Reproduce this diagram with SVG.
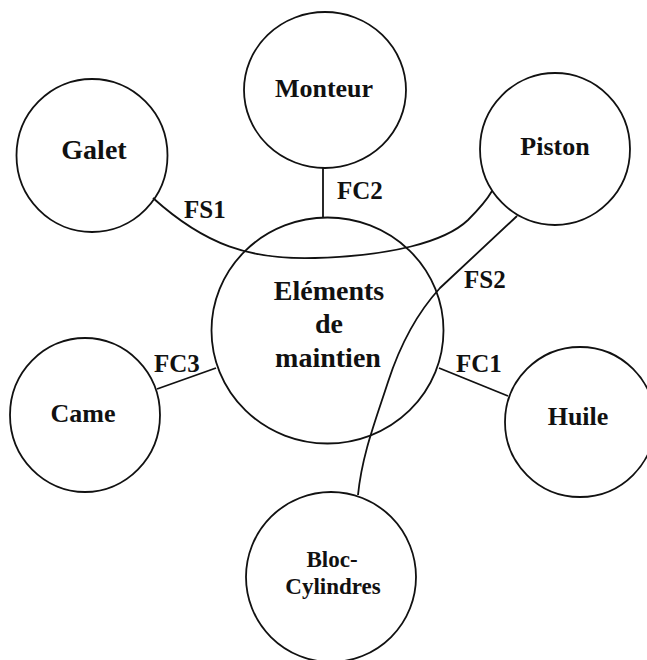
<svg xmlns="http://www.w3.org/2000/svg" width="647" height="660" viewBox="0 0 647 660">
<style>
.n{fill:none;stroke:#111;stroke-width:1.8}
.c{fill:none;stroke:#111;stroke-width:1.8}
text{font-family:"Liberation Serif","Times New Roman",serif;font-weight:bold;fill:#111;text-anchor:middle}
.t{font-size:26px}
.g{font-size:28px}
.m{font-size:28px}
.b{font-size:23px}
.l{font-size:25px;text-anchor:start}
</style>
<rect width="647" height="660" fill="#fff"/>
<g id="connectors">
<line class="c" x1="323" y1="168" x2="323" y2="218"/>
<line class="c" x1="157" y1="389" x2="216" y2="368"/>
<line class="c" x1="439" y1="368" x2="508" y2="396"/>
<path class="c" d="M153,198 C205,245 250,260 315,258 C390,256 445,242 468,220 C480,208 488,198 492,191"/>
<path class="c" d="M517,216 L440,288 C418,312 400,345 388,382 C375,422 362,455 358,495"/>
<text class="l" x="337" y="199">FC2</text>
<text class="l" x="184" y="218">FS1</text>
<text class="l" x="464" y="288">FS2</text>
<text class="l" x="154" y="372">FC3</text>
<text class="l" x="456" y="372">FC1</text>
</g>
<g id="monteur"><ellipse class="n" cx="325" cy="90" rx="81" ry="78"/><text class="t" x="324" y="97">Monteur</text></g>
<g id="galet"><ellipse class="n" cx="92" cy="155.5" rx="75.5" ry="76.5"/><text class="g" x="94" y="159">Galet</text></g>
<g id="piston"><ellipse class="n" cx="555" cy="149" rx="75" ry="76"/><text class="t" x="555" y="155">Piston</text></g>
<g id="came"><ellipse class="n" cx="85" cy="415" rx="75" ry="77"/><text class="t" x="83" y="422">Came</text></g>
<g id="huile"><ellipse class="n" cx="580" cy="422" rx="75" ry="75"/><text class="t" x="578" y="425">Huile</text></g>
<g id="elements"><ellipse class="n" cx="327.5" cy="330.5" rx="116" ry="113"/><text class="m" x="329" y="300">Eléments</text><text class="m" x="329" y="333">de</text><text class="m" x="328" y="367">maintien</text></g>
<g id="bloc"><ellipse class="n" cx="331" cy="577" rx="85" ry="85"/><text class="b" x="332" y="567">Bloc-</text><text class="b" x="333" y="594">Cylindres</text></g>
</svg>
